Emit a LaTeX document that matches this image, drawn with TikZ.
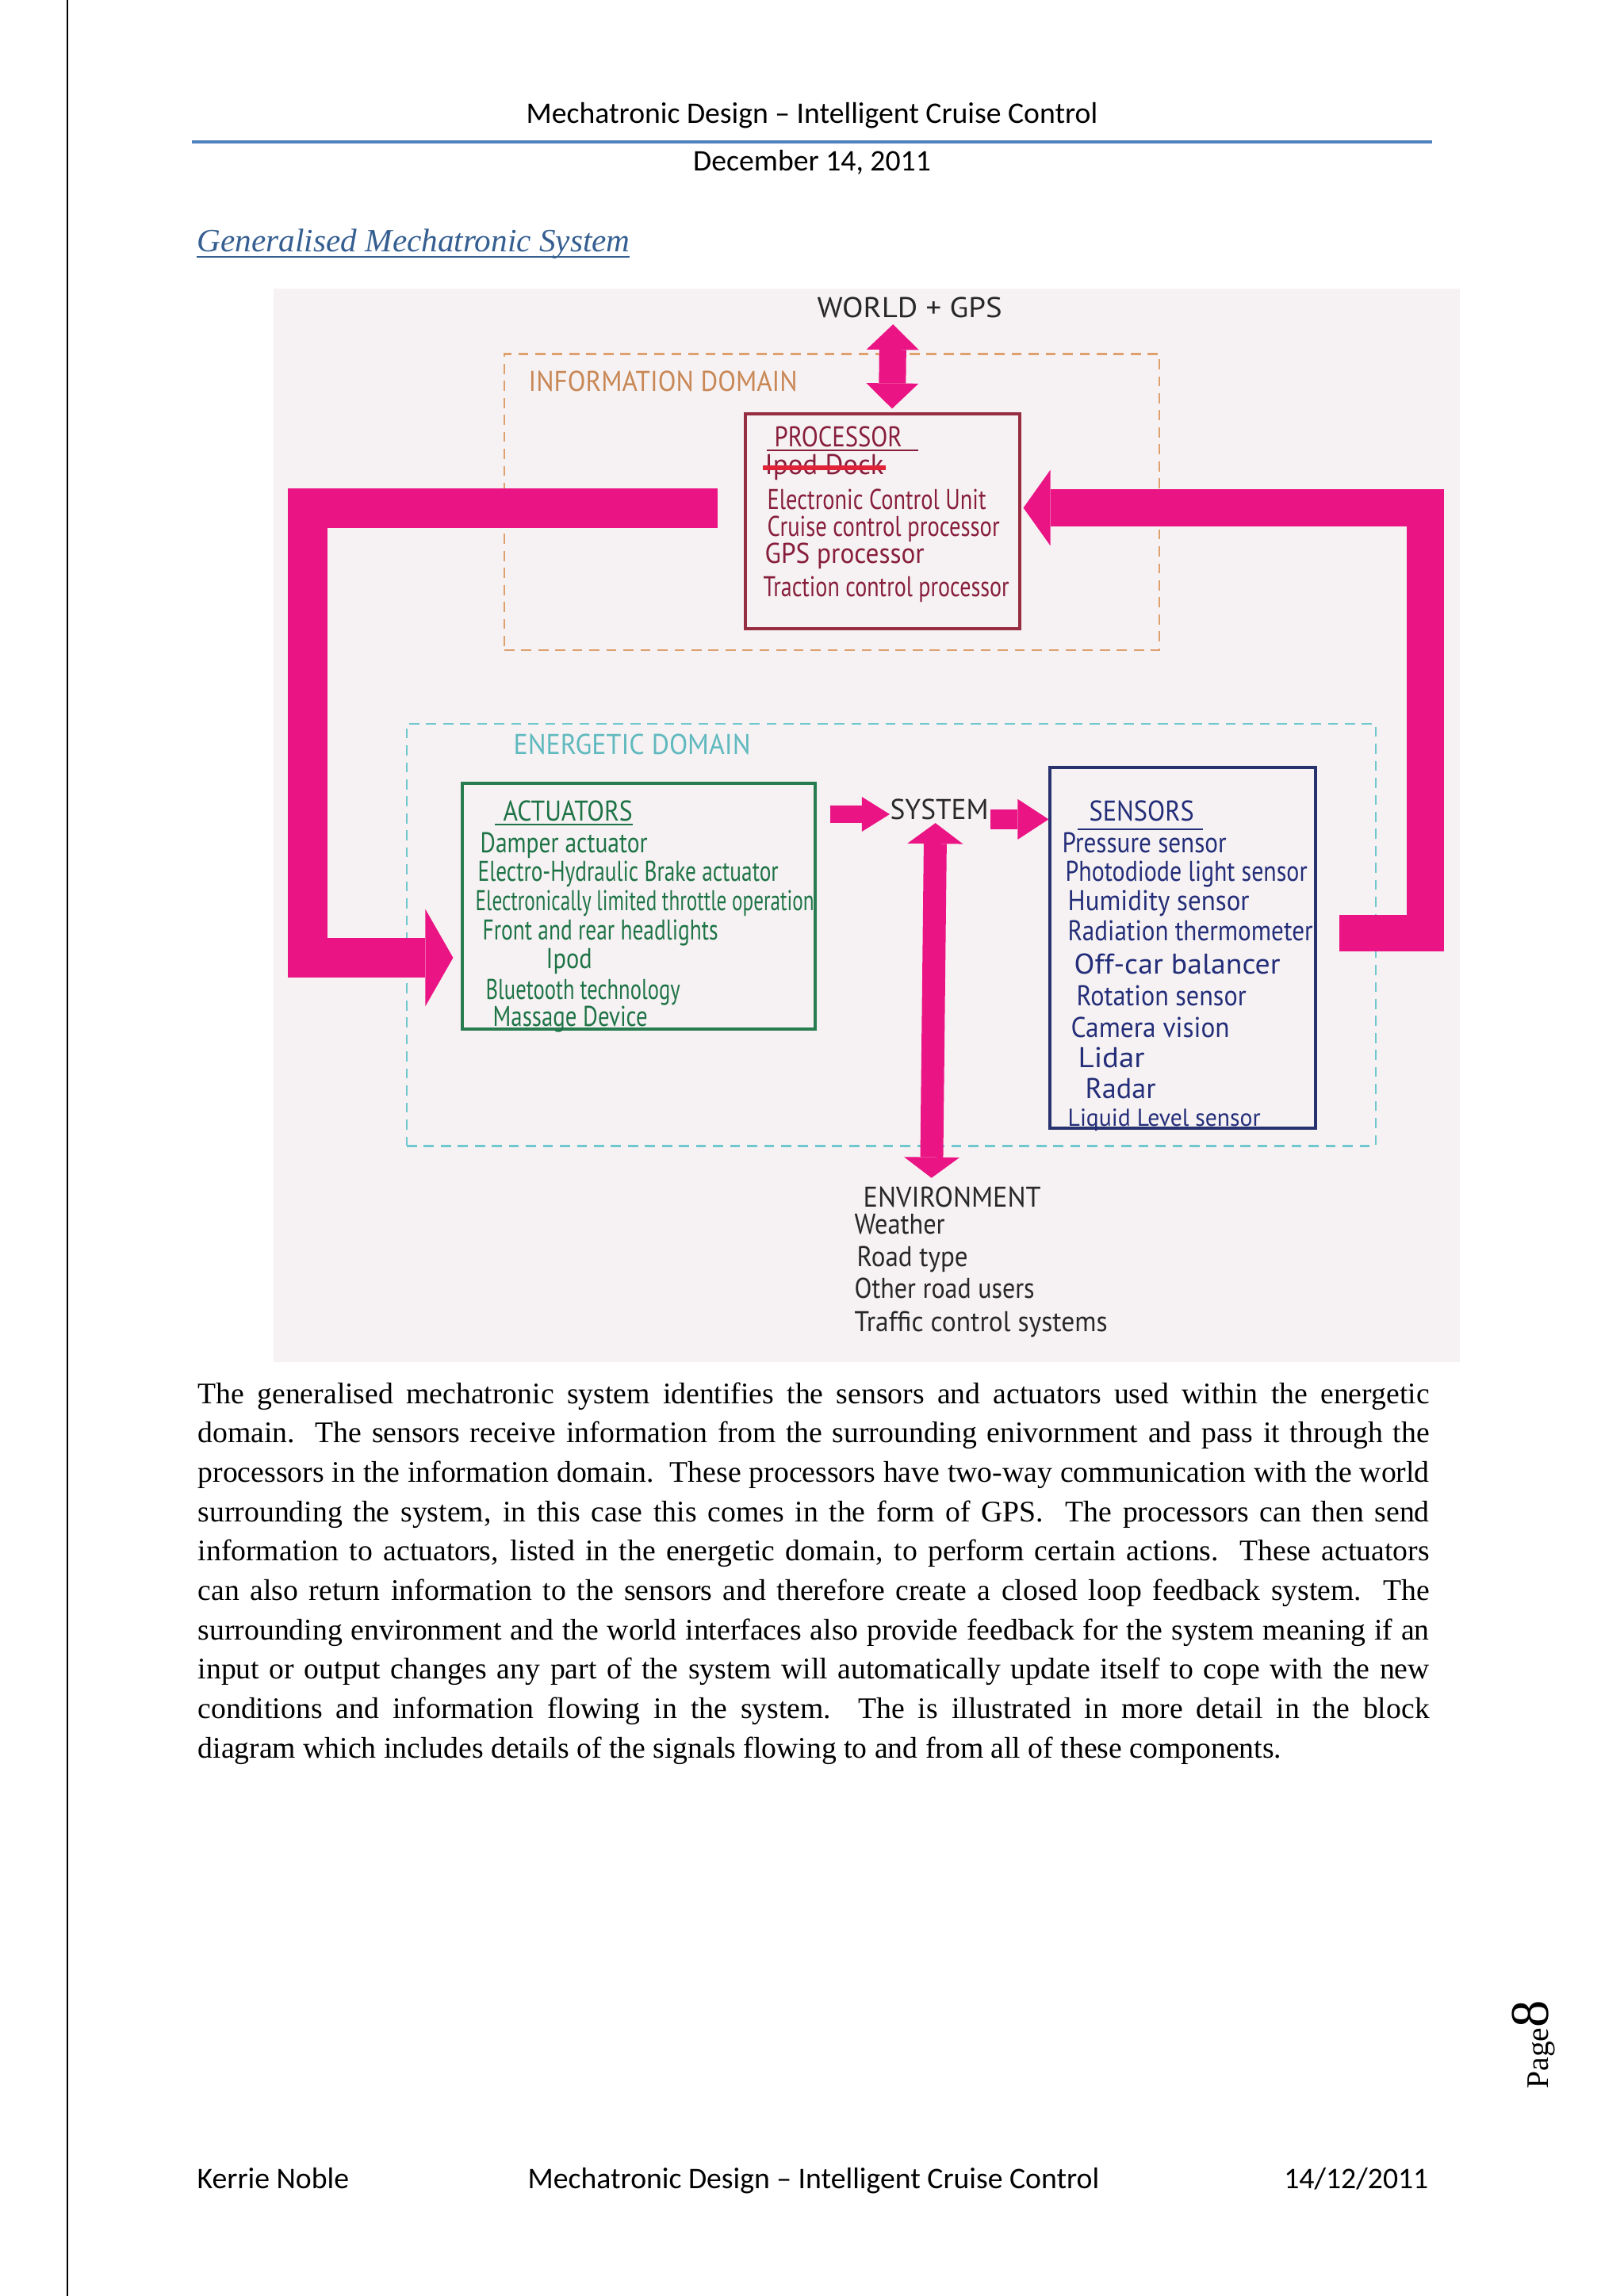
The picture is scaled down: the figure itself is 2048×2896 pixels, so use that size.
\documentclass[tikz,border=0pt]{standalone}
\usepackage{fontspec}
\usepackage{graphicx}
\setmainfont{Liberation Serif}
\newfontfamily\calibfont{Carlito}
\newfontfamily\handfont{PT Sans}
\usetikzlibrary{arrows.meta,calc}
\newlength\pxu
\setlength\pxu{0.1025390625mm}
\newcommand\hw[2]{\resizebox{#1\pxu}{\height}{#2}}
\newcommand\jl[1]{\makebox[1553\pxu][s]{#1}}
\definecolor{pinkA}{RGB}{234,20,132}
\definecolor{orangeD}{RGB}{222,160,110}
\definecolor{orangeT}{RGB}{200,135,85}
\definecolor{maroonT}{RGB}{135,30,60}
\definecolor{maroonB}{RGB}{150,45,65}
\definecolor{strikeR}{RGB}{225,35,55}
\definecolor{tealD}{RGB}{110,200,205}
\definecolor{tealT}{RGB}{95,185,190}
\definecolor{greenT}{RGB}{30,115,70}
\definecolor{greenB}{RGB}{40,125,80}
\definecolor{navyT}{RGB}{35,45,120}
\definecolor{navyB}{RGB}{40,50,110}
\definecolor{darkT}{RGB}{40,40,40}
\definecolor{hdrline}{RGB}{79,129,189}
\definecolor{headblue}{RGB}{54,95,145}
\definecolor{photobg}{RGB}{246,242,243}
\begin{document}
\begin{tikzpicture}[x=0.1025390625mm,y=-0.1025390625mm,
  hand/.style={font=\handfont\fontsize{10.5}{12}\selectfont, inner sep=0pt, anchor=base west},
  proct/.style={hand, text=maroonT},
  actt/.style={hand, text=greenT},
  senst/.style={hand, text=navyT},
  darkt/.style={hand, text=darkT},
  dombox/.style={line width=0.26mm, dash pattern=on 1.3mm off 0.9mm, inner sep=0pt},
  blk/.style={line width=0.32mm, inner sep=0pt},
  bodyline/.style={font=\fontsize{11}{13}\selectfont, inner sep=0pt, anchor=base west},
  calib/.style={font=\calibfont\fontsize{11}{13}\selectfont, inner sep=0pt},
  loopL/.style={draw=pinkA, line width=5.13mm, -{Triangle[width=12.6mm,length=3.6mm,line width=0pt]}},
  loopR/.style={draw=pinkA, line width=4.8mm, -{Triangle[width=9.84mm,length=3.5mm,line width=0pt]}},
  dblW/.style={draw=pinkA, line width=3.49mm, {Triangle[width=6.77mm,length=3.28mm,line width=0pt]}-{Triangle[width=6.77mm,length=3.28mm,line width=0pt]}},
  arrAS/.style={draw=pinkA, line width=2.26mm, -{Triangle[width=4.5mm,length=3.6mm,line width=0pt]}},
  arrSS/.style={draw=pinkA, line width=2.56mm, -{Triangle[width=5.23mm,length=4mm,line width=0pt]}},
  dblE/.style={draw=pinkA, line width=2.97mm, {Triangle[width=7.18mm,length=2.67mm,line width=0pt]}-{Triangle[width=7.18mm,length=2.67mm,line width=0pt]}}
]
\useasboundingbox (0,0) rectangle (2048,2896);
\fill[white] (0,0) rectangle (2048,2896);
\draw[black, line width=0.2mm] (85,0) -- (85,2896);

% header
\node[calib, anchor=base] (hdr) at (1024,155) {Mechatronic Design – Intelligent Cruise Control};
\draw[hdrline, line width=0.4mm] (242,179) -- (1806,179);
\node[calib, anchor=base] (date) at (1024,215) {December 14, 2011};
\node[inner sep=0pt, anchor=base west, text=headblue, font=\itshape\fontsize{12}{14}\selectfont] (title) at (248,317) {\hw{546}{Generalised Mechatronic System}};
\draw[headblue, line width=0.2mm] (title.base west) ++(0,7) -- ++(546,0);

% photo background
\fill[photobg] (345,364) rectangle (1841,1718);

% domains
\node[dombox, draw=orangeD, minimum width=84.70mm, minimum height=38.3mm] (infodom) at (1049,633) {};
\node[hand, text=orangeT] (infolab) at (666,493) {\hw{339}{INFORMATION DOMAIN}};
\node[dombox, draw=tealD, minimum width=125.3mm, minimum height=54.6mm] (energdom) at (1124,1179) {};
\node[hand, text=tealT] (energlab) at (647,951) {\hw{299}{ENERGETIC DOMAIN}};

% world
\node[darkt] (world) at (1030,400) {\hw{233}{WORLD + GPS}};

% processor
\node[blk, draw=maroonB, minimum width=35.48mm, minimum height=27.79mm] (procbox) at (1113,657.5) {};
\node[proct] (p0) at (976,563) {\hw{161}{PROCESSOR}};
\draw[maroonT, line width=0.3mm] ($(p0.base west)+(-9,5)$) -- ($(p0.base east)+(20,5)$);
\node[proct] (p1) at (964,598) {\hw{150}{Ipod Dock}};
\draw[strikeR, line width=0.6mm] ($(p1.base west)+(-2,-8)$) -- ($(p1.base east)+(2,-8)$);
\node[proct] (p2) at (967,642) {\hw{276}{Electronic Control Unit}};
\node[proct] (p3) at (967,676) {\hw{293}{Cruise control processor}};
\node[proct] (p4) at (964,710) {\hw{201}{GPS processor}};
\node[proct] (p5) at (962,752) {\hw{310}{Traction control processor}};

% actuators
\node[blk, draw=greenB, minimum width=45.63mm, minimum height=31.79mm] (actbox) at (805.5,1143) {};
\node[actt] (a0) at (634,1035) {\hw{163}{ACTUATORS}};
\draw[greenT, line width=0.3mm] ($(a0.base west)+(-10,5)$) -- ($(a0.base east)+(0,5)$);
\node[actt] (a1) at (605,1075) {\hw{211}{Damper actuator}};
\node[actt] (a2) at (602,1111) {\hw{379}{Electro-Hydraulic Brake actuator}};
\node[actt] (a3) at (599,1148) {\hw{427}{Electronically limited throttle operation}};
\node[actt] (a4) at (608,1185) {\hw{297}{Front and rear headlights}};
\node[actt] (a5) at (688,1221) {\hw{58}{Ipod}};
\node[actt] (a6) at (612,1260) {\hw{245}{Bluetooth technology}};
\node[actt] (a7) at (621,1294) {\hw{195}{Massage Device}};

% system
\node[darkt] (sys) at (1122,1033) {\hw{124}{SYSTEM}};

% sensors
\node[blk, draw=navyB, minimum width=34.35mm, minimum height=46.66mm] (sensbox) at (1491.5,1195.5) {};
\node[senst] (s0) at (1373,1035) {\hw{132}{SENSORS}};
\draw[navyT, line width=0.3mm] ($(s0.base west)+(-14,11)$) -- ($(s0.base east)+(11,11)$);
\node[senst] (s1) at (1339,1075) {\hw{207}{Pressure sensor}};
\node[senst] (s2) at (1343,1111) {\hw{305}{Photodiode light sensor}};
\node[senst] (s3) at (1346,1148) {\hw{229}{Humidity sensor}};
\node[senst] (s4) at (1346,1186) {\hw{309}{Radiation thermometer}};
\node[senst] (s5) at (1354,1228) {\hw{260}{Off-car balancer}};
\node[senst] (s6) at (1357,1268) {\hw{214}{Rotation sensor}};
\node[senst] (s7) at (1350,1308) {\hw{200}{Camera vision}};
\node[senst] (s8) at (1359,1346) {\hw{84}{Lidar}};
\node[senst] (s9) at (1368,1385) {\hw{89}{Radar}};
\node[senst, font=\handfont\fontsize{9}{10}\selectfont] (s10) at (1346,1420) {\hw{243}{Liquid Level sensor}};

% environment
\node[darkt] (env0) at (1088,1522) {\hw{224}{ENVIRONMENT}};
\node[darkt] (env1) at (1077,1556) {\hw{114}{Weather}};
\node[darkt] (env2) at (1080,1597) {\hw{140}{Road type}};
\node[darkt] (env3) at (1077,1637) {\hw{227}{Other road users}};
\node[darkt] (env4) at (1077,1679) {\hw{319}{Traffic control systems}};

% pink connectors
\coordinate (lp) at ($(procbox.west)+(-33,-17)$);
\coordinate (la) at ($(actbox.west)+(-10,65)$);
\draw[loopL] (lp) -| ($(la)+(-183,0)$) -- (la);
\coordinate (rs) at ($(sensbox.east)+(28,-18.5)$);
\coordinate (re) at ($(procbox.east)+(3,-17)$);
\draw[loopR] (rs) -- ($(rs)+(109,0)$) |- (re);
\draw[dblW] ($(world.south)+(-21,8)$) -- ($(procbox.north)+(12,-5)$);
\coordinate (as1) at ($(actbox.east)+(17,-116)$);
\draw[arrAS] (as1) -- (as1 -| sys.west);
\coordinate (ss1) at ($(sys.east)+(2,13)$);
\draw[arrSS] (ss1) -- (ss1 -| sensbox.west);
\draw[dblE] ($(sys.south)+(-5,4)$) -- ($(env0.north)+(-26,-10)$);

% body text
\node[bodyline] (l1) at (249,1770) {\jl{The generalised mechatronic system identifies the sensors and actuators used within the energetic}};
\node[bodyline] (l2) at (249,1819.7) {\jl{domain.\ \ The sensors receive information from the surrounding enivornment and pass it through the}};
\node[bodyline] (l3) at (249,1869.3) {\jl{processors in the information domain.\ \ These processors have two-way communication with the world}};
\node[bodyline] (l4) at (249,1919) {\jl{surrounding the system, in this case this comes in the form of GPS.\ \ The processors can then send}};
\node[bodyline] (l5) at (249,1968.7) {\jl{information to actuators, listed in the energetic domain, to perform certain actions.\ \ These actuators}};
\node[bodyline] (l6) at (249,2018.3) {\jl{can also return information to the sensors and therefore create a closed loop feedback system.\ \ The}};
\node[bodyline] (l7) at (249,2068) {\jl{surrounding environment and the world interfaces also provide feedback for the system meaning if an}};
\node[bodyline] (l8) at (249,2117.7) {\jl{input or output changes any part of the system will automatically update itself to cope with the new}};
\node[bodyline] (l9) at (249,2167.3) {\jl{conditions and information flowing in the system.\ \ The is illustrated in more detail in the block}};
\node[bodyline] (l10) at (249,2217) {diagram which includes details of the signals flowing to and from all of these components.};

% page number
\node[rotate=90, anchor=base west, inner sep=0pt] (pg) at (1952,2635) {\fontsize{11.5}{13}\selectfont Page\fontsize{20}{22}\selectfont 8};

% footer
\node[calib, anchor=base west] (f1) at (248,2760) {Kerrie Noble};
\node[calib, anchor=base] (f2) at (1026,2760) {Mechatronic Design – Intelligent Cruise Control};
\node[calib, anchor=base east] (f3) at (1802,2760) {14/12/2011};
\end{tikzpicture}
\end{document}
